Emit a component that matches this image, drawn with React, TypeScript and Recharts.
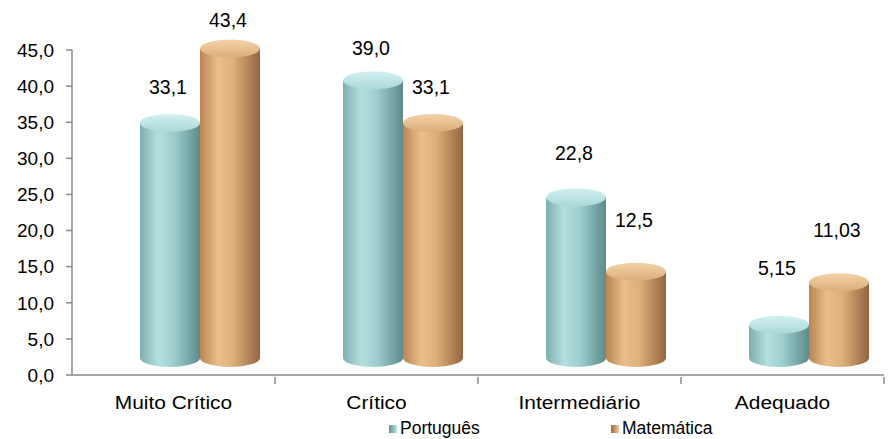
import { BarChart, Bar, XAxis, YAxis, Legend, LabelList } from "recharts";

const categories = ["Muito Crítico", "Crítico", "Intermediário", "Adequado"];
const portugues = [33.1, 39.0, 22.8, 5.15];
const matematica = [43.4, 33.1, 12.5, 11.03];
const yTicks = [0, 5, 10, 15, 20, 25, 30, 35, 40, 45];

const data = categories.map((name, i) => ({
  name,
  portugues: portugues[i],
  matematica: matematica[i],
}));

const W = 892;
const H = 439;
const LEFT = 72;
const RIGHT = 8;
const FONT = "'Liberation Sans', Arial, sans-serif";
const AXIS = "#8a8a8a";
const DX = 26;
const DY = -13;

const fmt = (v: number) =>
  (Number.isInteger(v) ? v.toFixed(1) : String(v)).replace(".", ",");

const Cylinder = (props: any) => {
  const { x, y, width, height, kind } = props;
  if (width == null || height == null) return null;
  const left = x + DX;
  const top = y + DY;
  const bottom = y + height + DY - 4;
  const rx = width / 2;
  const ry = 9;
  const body = `M${left},${top} L${left},${bottom} A${rx},${ry} 0 0 0 ${left + width},${bottom} L${left + width},${top} Z`;
  return (
    <g>
      <path d={body} fill={`url(#body-${kind})`} />
      <ellipse cx={left + rx} cy={top} rx={rx} ry={ry} fill={`url(#top-${kind})`} />
    </g>
  );
};

const ValueLabel = (props: any) => {
  const { x, y, width, value } = props;
  const cx = x + width / 2 + DX - 2;
  const cy = y - 73.8 + 0.742 * value;
  return (
    <text x={cx} y={cy} textAnchor="middle" dominantBaseline="central" fontFamily={FONT} fontSize={19.5} fill="#000">
      {fmt(value)}
    </text>
  );
};

const band = (W - LEFT - RIGHT) / categories.length;

const CategoryTick = (props: any) => {
  const { x, y, payload } = props;
  return (
    <g>
      <line x1={x + band / 2} y1={y - 6} x2={x + band / 2} y2={y + 1} stroke={AXIS} strokeWidth={1.5} />
      <text
        x={x}
        y={y + 19}
        textAnchor="middle"
        dominantBaseline="central"
        fontFamily={FONT}
        fontSize={19}
        fill="#000"
        transform={`translate(${x},0) scale(1.1,1) translate(${-x},0)`}
      >
        {payload.value}
      </text>
    </g>
  );
};

const LegendContent = () => (
  <div style={{ position: "relative", height: 20, fontFamily: FONT, fontSize: 17.5, color: "#000" }}>
    <div style={{ position: "absolute", left: 389, top: 0, display: "flex", alignItems: "center" }}>
      <span style={{ width: 8, height: 8, marginRight: 3, background: "linear-gradient(90deg,#5f8f90,#bfe6e6)" }} />
      Português
    </div>
    <div style={{ position: "absolute", left: 611, top: 0, display: "flex", alignItems: "center" }}>
      <span style={{ width: 8, height: 8, marginRight: 3, background: "linear-gradient(90deg,#9a6a40,#efc797)" }} />
      Matemática
    </div>
  </div>
);

export default function App() {
  return (
    <div style={{ position: "absolute", left: 0, top: 0, width: W, height: H, background: "#fff" }}>
      <BarChart
        width={W}
        height={H}
        data={data}
        margin={{ top: 50, right: RIGHT, left: 0, bottom: 10 }}
        barSize={60}
        barGap={0}
      >
        <defs>
          <linearGradient id="body-p" x1="0" y1="0" x2="1" y2="0">
            <stop offset="0%" stopColor="#7eaeae" />
            <stop offset="30%" stopColor="#b5dfdf" />
            <stop offset="55%" stopColor="#a0cfd0" />
            <stop offset="100%" stopColor="#5d8b8c" />
          </linearGradient>
          <linearGradient id="top-p" x1="0" y1="0" x2="0" y2="1">
            <stop offset="0%" stopColor="#d4f1f1" />
            <stop offset="100%" stopColor="#a9d8d8" />
          </linearGradient>
          <linearGradient id="body-m" x1="0" y1="0" x2="1" y2="0">
            <stop offset="0%" stopColor="#b98454" />
            <stop offset="30%" stopColor="#eabf8c" />
            <stop offset="55%" stopColor="#ddb07c" />
            <stop offset="100%" stopColor="#956540" />
          </linearGradient>
          <linearGradient id="top-m" x1="0" y1="0" x2="0" y2="1">
            <stop offset="0%" stopColor="#f3d2a8" />
            <stop offset="100%" stopColor="#dcae7a" />
          </linearGradient>
        </defs>
        <XAxis
          dataKey="name"
          height={30}
          stroke={AXIS}
          strokeWidth={1.5}
          tickLine={false}
          tick={<CategoryTick />}
          interval={0}
        />
        <YAxis
          width={LEFT}
          domain={[0, 45]}
          ticks={yTicks}
          tickFormatter={fmt}
          stroke={AXIS}
          strokeWidth={1.5}
          tickSize={6}
          tickMargin={12}
          tick={{ fill: "#000", fontSize: 19, fontFamily: FONT }}
          interval={0}
        />
        <Legend
          verticalAlign="bottom"
          height={24}
          content={<LegendContent />}
          wrapperStyle={{ top: 418, bottom: "auto", left: 0, width: W }}
        />
        <Bar dataKey="portugues" name="Português" fill="#a6d4d4" isAnimationActive={false}
          shape={(p: any) => <Cylinder {...p} kind="p" />}>
          <LabelList dataKey="portugues" content={<ValueLabel />} />
        </Bar>
        <Bar dataKey="matematica" name="Matemática" fill="#ddb07c" isAnimationActive={false}
          shape={(p: any) => <Cylinder {...p} kind="m" />}>
          <LabelList dataKey="matematica" content={<ValueLabel />} />
        </Bar>
      </BarChart>
    </div>
  );
}
